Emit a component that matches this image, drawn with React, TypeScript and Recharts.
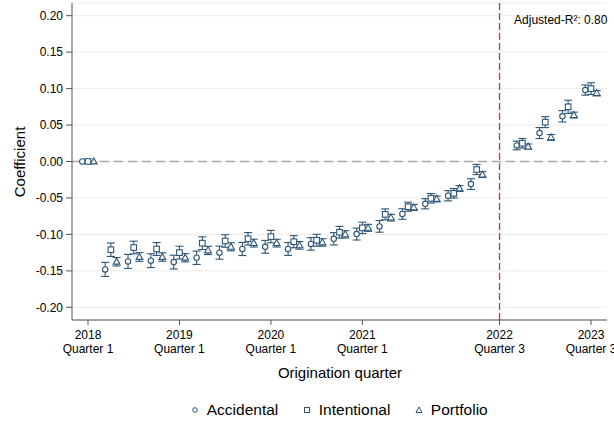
import {
  ScatterChart,
  Scatter,
  XAxis,
  YAxis,
  CartesianGrid,
  ReferenceLine,
  ErrorBar,
  Legend,
} from 'recharts';

// quarter index: 0 = 2018 Q1 ... 22 = 2023 Q3 (no estimate at 18 = 2022 Q3)
const quarterIndex = [0, 1, 2, 3, 4, 5, 6, 7, 8, 9, 10, 11, 12, 13, 14, 15, 16, 17, 19, 20, 21, 22];

const accidental = [
  0, -0.148, -0.137, -0.136, -0.138, -0.132, -0.125, -0.12, -0.117, -0.12, -0.113,
  -0.106, -0.0995, -0.089, -0.072, -0.058, -0.047, -0.031, 0.022, 0.039, 0.062, 0.098,
];
const accidentalErr = [
  0, 0.0096, 0.0096, 0.0095, 0.0094, 0.0092, 0.009, 0.009, 0.0088, 0.0088, 0.0086,
  0.0085, 0.0082, 0.008, 0.0072, 0.007, 0.007, 0.0073, 0.006, 0.0075, 0.0078, 0.007,
];

const intentional = [
  0, -0.121, -0.118, -0.12, -0.125, -0.112, -0.109, -0.106, -0.103, -0.11, -0.108,
  -0.097, -0.091, -0.0725, -0.062, -0.0505, -0.0436, -0.011, 0.025, 0.054, 0.075, 0.1,
];
const intentionalErr = [
  0, 0.0092, 0.0087, 0.0088, 0.0088, 0.0087, 0.0086, 0.0085, 0.0085, 0.0083, 0.0082,
  0.008, 0.0078, 0.0075, 0.0062, 0.0065, 0.0065, 0.007, 0.0065, 0.0075, 0.009, 0.008,
];

const portfolio = [
  0, -0.1375, -0.131, -0.131, -0.132, -0.122, -0.117, -0.112, -0.112, -0.115, -0.111,
  -0.1, -0.091, -0.077, -0.063, -0.0514, -0.037, -0.018, 0.0205, 0.033, 0.0637, 0.0937,
];
const portfolioErr = [
  0, 0.0058, 0.006, 0.0058, 0.0057, 0.0056, 0.0055, 0.0054, 0.0053, 0.0052, 0.0051,
  0.005, 0.0048, 0.0046, 0.004, 0.004, 0.004, 0.004, 0.0035, 0.004, 0.004, 0.0035,
];

const xTicks = [0, 4, 8, 12, 18, 22];
const xTickYears = ['2018', '2019', '2020', '2021', '2022', '2023'];
const xTickQuarters = ['Quarter 1', 'Quarter 1', 'Quarter 1', 'Quarter 1', 'Quarter 3', 'Quarter 3'];
const yTicks = [-0.2, -0.15, -0.1, -0.05, 0, 0.05, 0.1, 0.15, 0.2];

const breakQuarter = 18;
const adjustedR2 = '0.80';

const NAVY = '#2c5578';
const BREAK_RED = '#b83a52';
const FONT = '"Liberation Sans", Arial, Helvetica, sans-serif';

const toPoints = (values: number[], errs: number[], shift: number) =>
  quarterIndex.map((q, i) => ({ x: q + shift, y: values[i], err: errs[i] }));

const accidentalData = toPoints(accidental, accidentalErr, -0.25);
const intentionalData = toPoints(intentional, intentionalErr, 0);
const portfolioData = toPoints(portfolio, portfolioErr, 0.25);

const HollowCircle = (p: any) => (
  <circle cx={p.cx} cy={p.cy} r={2.7} fill="#fff" stroke={NAVY} strokeWidth={1.1} />
);
const HollowSquare = (p: any) => (
  <rect x={p.cx - 2.8} y={p.cy - 2.8} width={5.6} height={5.6} fill="#fff" stroke={NAVY} strokeWidth={1.1} />
);
const HollowTriangle = (p: any) => (
  <polygon
    points={`${p.cx},${p.cy - 3.6} ${p.cx - 3.4},${p.cy + 2.4} ${p.cx + 3.4},${p.cy + 2.4}`}
    fill="#fff"
    stroke={NAVY}
    strokeWidth={1.1}
  />
);

function QuarterTick({ x, y, payload }: any) {
  const i = xTicks.indexOf(payload.value);
  return (
    <text x={x} y={y} textAnchor="middle" fontSize={12} fill="#000" fontFamily={FONT}>
      <tspan x={x} dy={12}>{xTickYears[i]}</tspan>
      <tspan x={x} dy={14}>{xTickQuarters[i]}</tspan>
    </text>
  );
}

const legendItems = [
  { name: 'Accidental', marker: 'circle' },
  { name: 'Intentional', marker: 'square' },
  { name: 'Portfolio', marker: 'triangle' },
];

function LegendMarker({ kind }: { kind: string }) {
  return (
    <svg width={8} height={8} style={{ marginRight: 7.5 }}>
      {kind === 'circle' && <circle cx={4} cy={4} r={2.3} fill="#fff" stroke={NAVY} strokeWidth={1} />}
      {kind === 'square' && <rect x={1.5} y={1.5} width={5} height={5} fill="#fff" stroke={NAVY} strokeWidth={1} />}
      {kind === 'triangle' && <polygon points="4,1 1,6.5 7,6.5" fill="#fff" stroke={NAVY} strokeWidth={1} />}
    </svg>
  );
}

// legend is centred under the plot area, not the whole figure
function BottomLegend() {
  return (
    <div style={{ display: 'flex', justifyContent: 'center', alignItems: 'center', fontFamily: FONT, fontSize: 15.5, color: '#000' }}>
      {legendItems.map((item) => (
        <div key={item.name} style={{ display: 'flex', alignItems: 'center', margin: '0 12.5px' }}>
          <LegendMarker kind={item.marker} />
          <span>{item.name}</span>
        </div>
      ))}
    </div>
  );
}

export default function App() {
  return (
    <div style={{ position: 'absolute', left: 0, top: 0, background: '#fff' }}>
      <ScatterChart
        width={614}
        height={425}
        margin={{ top: 3, right: 7, bottom: 45, left: 0 }}
        style={{ fontFamily: FONT }}
      >
        <CartesianGrid vertical={false} stroke="#ececec" strokeWidth={1} />
        <XAxis
          type="number"
          dataKey="x"
          domain={[-0.7, 22.7]}
          ticks={xTicks}
          interval={0}
          height={60}
          tickSize={5}
          tickMargin={2}
          stroke="#555"
          tick={<QuarterTick />}
          allowDataOverflow
          label={{
            content: () => (
              <text x={340} y={378} textAnchor="middle" fontSize={15} fill="#000" fontFamily={FONT}>
                Origination quarter
              </text>
            ),
          }}
        />
        <YAxis
          type="number"
          dataKey="y"
          domain={[-0.2174, 0.2174]}
          ticks={yTicks}
          interval={0}
          width={72}
          tickSize={6}
          tickMargin={3}
          stroke="#555"
          tick={{ fill: '#000', fontSize: 12 }}
          tickFormatter={(v: number) => v.toFixed(2)}
          allowDataOverflow
          label={{
            content: () => (
              <text
                x={19}
                y={162}
                textAnchor="middle"
                dominantBaseline="central"
                transform="rotate(-90, 19, 162)"
                fontSize={15}
                fill="#000"
                fontFamily={FONT}
              >
                Coefficient
              </text>
            ),
          }}
        />
        <ReferenceLine y={0} stroke="#a8a8a8" strokeWidth={1.3} strokeDasharray="9 5" />
        <ReferenceLine
          x={breakQuarter}
          stroke={BREAK_RED}
          strokeOpacity={1}
          strokeWidth={1.3}
          strokeDasharray="7 3"
          label={{
            content: (props: any) => (
              <text x={props.viewBox.x + 14.5} y={24} fontSize={12} fill="#000" fontFamily={FONT}>
                Adjusted-R²: {adjustedR2}
              </text>
            ),
          }}
        />
        <Scatter name="Accidental" data={accidentalData} shape={HollowCircle} isAnimationActive={false}>
          <ErrorBar dataKey="err" direction="y" width={4} stroke={NAVY} strokeWidth={1.1} isAnimationActive={false} />
        </Scatter>
        <Scatter name="Intentional" data={intentionalData} shape={HollowSquare} isAnimationActive={false}>
          <ErrorBar dataKey="err" direction="y" width={4} stroke={NAVY} strokeWidth={1.1} isAnimationActive={false} />
        </Scatter>
        <Scatter name="Portfolio" data={portfolioData} shape={HollowTriangle} isAnimationActive={false}>
          <ErrorBar dataKey="err" direction="y" width={4} stroke={NAVY} strokeWidth={1.1} isAnimationActive={false} />
        </Scatter>
        <Legend
          layout="horizontal"
          verticalAlign="middle"
          align="center"
          wrapperStyle={{ left: 65, top: 401, width: 549 }}
          content={() => <BottomLegend />}
        />
      </ScatterChart>
    </div>
  );
}
